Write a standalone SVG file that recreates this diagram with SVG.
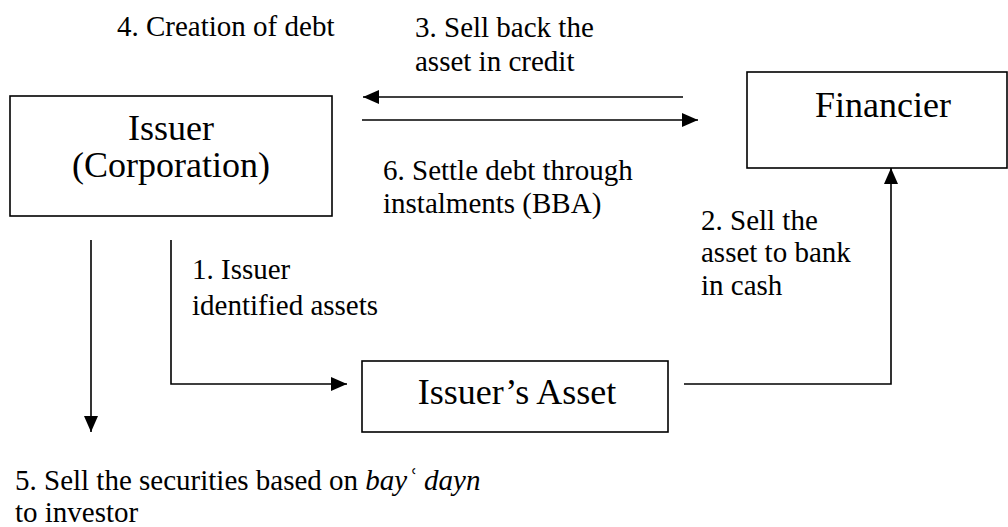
<svg xmlns="http://www.w3.org/2000/svg" width="1008" height="527" viewBox="0 0 1008 527">
<style>
text{font-family:'Liberation Serif','Times New Roman',serif;fill:#000}
.big{font-size:36px}
.lbl{font-size:29px}
.box{fill:#fff;stroke:#000;stroke-width:1.6}
.ln{fill:none;stroke:#000;stroke-width:1.6}
</style>
<defs>
<marker id="ah" markerUnits="userSpaceOnUse" markerWidth="16" markerHeight="14" refX="16" refY="7" orient="auto">
<path d="M0,0 L16,7 L0,14 Z" fill="#000"/>
</marker>
</defs>
<rect width="1008" height="527" fill="#fff"/>
<g id="issuer">
<rect class="box" x="10" y="96" width="322" height="120"/>
<text class="big" x="171" y="140" text-anchor="middle">Issuer</text>
<text class="big" x="171" y="177" text-anchor="middle">(Corporation)</text>
</g>
<g id="financier">
<rect class="box" x="747" y="72" width="260" height="96"/>
<text class="big" x="883" y="117" text-anchor="middle">Financier</text>
</g>
<g id="asset">
<rect class="box" x="362" y="361" width="306" height="71"/>
<text class="big" x="517" y="404" text-anchor="middle">Issuer’s Asset</text>
</g>
<g id="connectors">
<line class="ln" x1="683" y1="97" x2="363" y2="97" marker-end="url(#ah)"/>
<line class="ln" x1="362" y1="120" x2="698" y2="120" marker-end="url(#ah)"/>
<polyline class="ln" points="171,240 171,384 347,384" marker-end="url(#ah)"/>
<polyline class="ln" points="684,384 891,384 891,168" marker-end="url(#ah)"/>
<line class="ln" x1="91" y1="240" x2="91" y2="432" marker-end="url(#ah)"/>
</g>
<g id="labels">
<text class="lbl" x="117" y="36">4. Creation of debt</text>
<text class="lbl" x="415" y="37">3. Sell back the</text>
<text class="lbl" x="415" y="71">asset in credit</text>
<text class="lbl" x="383" y="180">6. Settle debt through</text>
<text class="lbl" x="383" y="213">instalments (BBA)</text>
<text class="lbl" x="701" y="230">2. Sell the</text>
<text class="lbl" x="701" y="262">asset to bank</text>
<text class="lbl" x="701" y="295">in cash</text>
<text class="lbl" x="192" y="279">1. Issuer</text>
<text class="lbl" x="192" y="315">identified assets</text>
<text class="lbl" x="15" y="490">5. Sell the securities based on <tspan font-style="italic">bayʿ dayn</tspan></text>
<text class="lbl" x="15" y="522">to investor</text>
</g>
</svg>
